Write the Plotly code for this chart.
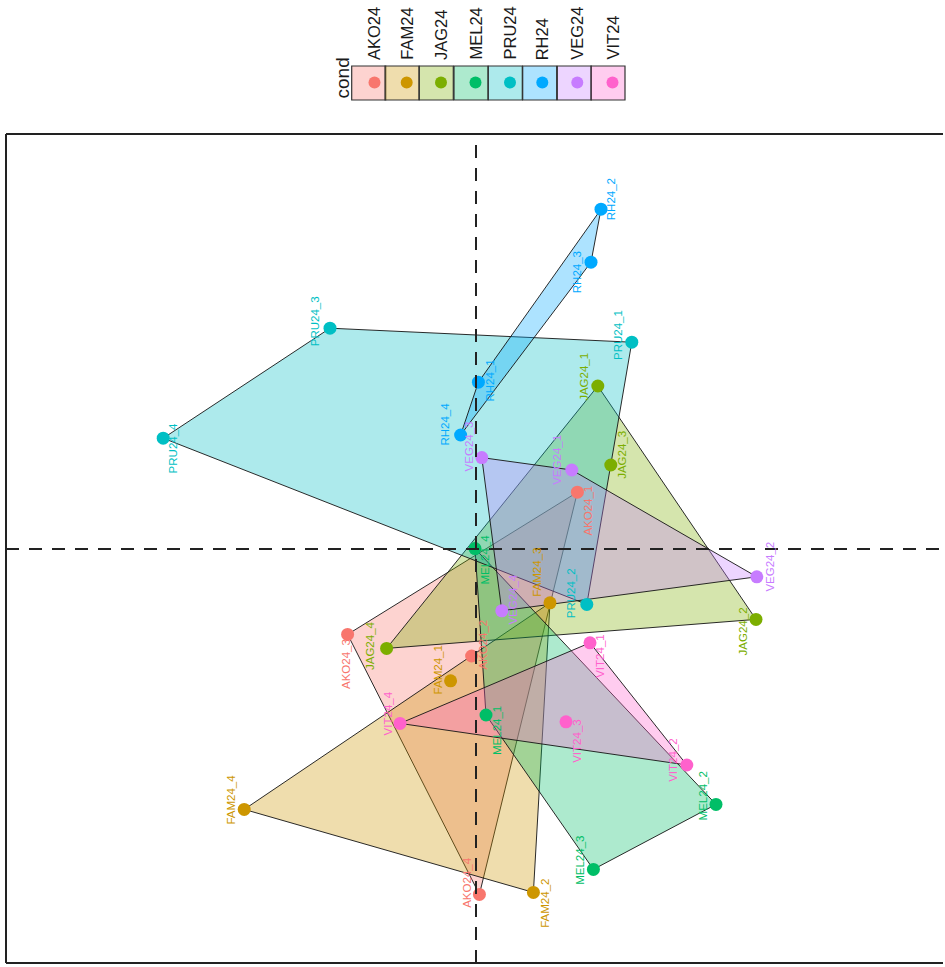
import plotly.graph_objects as go

# ---------------- data ----------------
groups = ["AKO24", "FAM24", "JAG24", "MEL24", "PRU24", "RH24", "VEG24", "VIT24"]
colors = ["#F8766D", "#CD9600", "#7CAE00", "#00BE67", "#00BFC4", "#00A9FF", "#C77CFF", "#FF61CC"]

samples = ["AKO24_1", "AKO24_2", "AKO24_3", "AKO24_4",
           "FAM24_1", "FAM24_2", "FAM24_3", "FAM24_4",
           "JAG24_1", "JAG24_2", "JAG24_3", "JAG24_4",
           "MEL24_1", "MEL24_2", "MEL24_3", "MEL24_4",
           "PRU24_1", "PRU24_2", "PRU24_3", "PRU24_4",
           "RH24_1", "RH24_2", "RH24_3", "RH24_4",
           "VEG24_1", "VEG24_2", "VEG24_3", "VEG24_4",
           "VIT24_1", "VIT24_2", "VIT24_3", "VIT24_4"]
cond = [s.split("_")[0] for s in samples]

pc_x = [5.07, -0.22, -6.42, 0.17,
        -1.27, 2.87, 3.70, -11.59,
        6.09, 14.00, 6.74, -4.47,
        0.50, 12.00, 5.87, -0.05,
        7.79, 5.54, -7.30, -15.64,
        0.12, 6.25, 5.75, -0.77,
        4.79, 14.04, 0.29, 1.29,
        5.70, 10.54, 4.50, -3.80]
pc_y = [2.84, -5.35, -4.27, -17.27,
        -6.59, -17.17, -2.69, -13.02,
        8.15, -3.52, 4.20, -4.97,
        -8.30, -12.77, -16.02, 0.02,
        10.34, -2.77, 11.04, 5.54,
        8.34, 16.99, 14.34, 5.70,
        3.95, -1.39, 4.57, -3.09,
        -4.69, -10.80, -8.64, -8.72]

# label displacement in screen pixels (right, down) – styling only
label_offsets = {
    "AKO24_1": (11, 18), "AKO24_2": (11, -11), "AKO24_3": (-1, 30), "AKO24_4": (-12, -12),
    "FAM24_1": (-13, -11), "FAM24_2": (12, 11), "FAM24_3": (-13, -30), "FAM24_4": (-13, -10),
    "JAG24_1": (-14, -9), "JAG24_2": (-13, 12), "JAG24_3": (11, -10), "JAG24_4": (-16, -3),
    "MEL24_1": (11, 16), "MEL24_2": (-13, -8), "MEL24_3": (-13, -9), "MEL24_4": (10, 11),
    "PRU24_1": (-14, -7), "PRU24_2": (-15, -11), "PRU24_3": (-15, -7), "PRU24_4": (10, 10),
    "RH24_1": (12, -2), "RH24_2": (10, -10), "RH24_3": (-14, 10), "RH24_4": (-16, -11),
    "VEG24_1": (-15, -10), "VEG24_2": (13, -10), "VEG24_3": (-13, -11), "VEG24_4": (11, -11),
    "VIT24_1": (10, 14), "VIT24_2": (-14, -5), "VIT24_3": (11, 20), "VIT24_4": (-12, -10),
}

FONT = "Liberation Sans, Arial, sans-serif"


def rgba(hexc, a):
    h = hexc.lstrip("#")
    r, g, b = int(h[0:2], 16), int(h[2:4], 16), int(h[4:6], 16)
    return f"rgba({r},{g},{b},{a})"


def convex_hull(pts):
    pts = sorted(set(pts))
    if len(pts) <= 2:
        return pts

    def cross(o, a, b):
        return (a[0] - o[0]) * (b[1] - o[1]) - (a[1] - o[1]) * (b[0] - o[0])

    lower = []
    for p in pts:
        while len(lower) >= 2 and cross(lower[-2], lower[-1], p) <= 0:
            lower.pop()
        lower.append(p)
    upper = []
    for p in reversed(pts):
        while len(upper) >= 2 and cross(upper[-2], upper[-1], p) <= 0:
            upper.pop()
        upper.append(p)
    return lower[:-1] + upper[:-1]


fig = go.Figure()

# hull polygons
for g, c in zip(groups, colors):
    pts = [(x, y) for x, y, k in zip(pc_x, pc_y, cond) if k == g]
    hull = convex_hull(pts)
    hx = [p[0] for p in hull] + [hull[0][0]]
    hy = [p[1] for p in hull] + [hull[0][1]]
    fig.add_trace(go.Scatter(x=hx, y=hy, mode="lines", fill="toself",
                             fillcolor=rgba(c, 0.32),
                             line=dict(color="rgba(20,20,20,0.9)", width=1),
                             hoverinfo="skip", showlegend=False))

# points
for g, c in zip(groups, colors):
    xs = [x for x, k in zip(pc_x, cond) if k == g]
    ys = [y for y, k in zip(pc_y, cond) if k == g]
    fig.add_trace(go.Scatter(x=xs, y=ys, mode="markers",
                             marker=dict(color=c, size=13, line=dict(width=0)),
                             name=g, showlegend=False))

# sample labels (rotated)
col_of = dict(zip(groups, colors))
for s, x, y, k in zip(samples, pc_x, pc_y, cond):
    dx, dy = label_offsets[s]
    fig.add_annotation(x=x, y=y, xref="x", yref="y", text=s, showarrow=False,
                       textangle=-90, xshift=dx, yshift=-dy,
                       font=dict(family=FONT, size=11.5, color=col_of[k]))

# dashed zero lines
fig.add_shape(type="line", xref="x", yref="paper", x0=0, x1=0, y0=0, y1=1,
              line=dict(color="#222222", width=2, dash="13px,10px"))
fig.add_shape(type="line", xref="paper", yref="y", x0=0, x1=1, y0=0, y1=0,
              line=dict(color="#222222", width=2, dash="13px,10px"))

# ---------------- layout geometry (pixels) ----------------
W, H = 960, 967          # figure wider than window: right side is cut off, as in the reference
L, R, T, B = 6, 960, 134, 963
FRAME_RIGHT = 943


def PX(px):
    return (px - L) / (R - L)


def PY(py):
    return (B - py) / (B - T)


# frame (left, top, bottom) – right side cut like the reference
frame = dict(color="#222222", width=2)
fig.add_shape(type="line", xref="paper", yref="paper", x0=0, x1=0, y0=0, y1=1, line=frame)
fig.add_shape(type="line", xref="paper", yref="paper", x0=0, x1=PX(FRAME_RIGHT), y0=1, y1=1, line=frame)
fig.add_shape(type="line", xref="paper", yref="paper", x0=0, x1=PX(FRAME_RIGHT), y0=0, y1=0, line=frame)

# ---------------- custom rotated legend ----------------
box_left = [351.7, 385.0, 419.3, 454.0, 488.3, 522.7, 557.3, 591.0]
box_w = 34.0
dot_x = [374.5, 406.7, 441.0, 475.5, 510.0, 542.3, 577.3, 612.5]
for i, (g, c) in enumerate(zip(groups, colors)):
    x0 = box_left[i]
    fig.add_shape(type="rect", xref="paper", yref="paper",
                  x0=PX(x0), x1=PX(x0 + box_w), y0=PY(100), y1=PY(66),
                  fillcolor=rgba(c, 0.32), line=dict(color="#333333", width=1.2))
    r = 6
    fig.add_shape(type="circle", xref="paper", yref="paper",
                  x0=PX(dot_x[i] - r), x1=PX(dot_x[i] + r),
                  y0=PY(82.5 + r), y1=PY(82.5 - r),
                  fillcolor=c, line=dict(width=0))
    fig.add_annotation(x=PX(dot_x[i]), y=PY(62), xref="paper", yref="paper",
                       text=g, showarrow=False, textangle=-90,
                       xanchor="center", yanchor="bottom",
                       font=dict(family=FONT, size=16.5, color="#1a1a1a"))

fig.add_annotation(x=PX(342), y=PY(101), xref="paper", yref="paper",
                   text="cond", showarrow=False, textangle=-90,
                   xanchor="center", yanchor="bottom",
                   font=dict(family=FONT, size=19, color="#1a1a1a"))

# 20 px per data unit, origin at pixel (476, 549)
x_min = (L - 476) / 20
x_max = (R - 476) / 20
y_max = (549 - T) / 20
y_min = (549 - B) / 20
fig.update_xaxes(range=[x_min, x_max], showgrid=False, zeroline=False,
                 showticklabels=False, ticks="", showline=False)
fig.update_yaxes(range=[y_min, y_max], showgrid=False, zeroline=False,
                 showticklabels=False, ticks="", showline=False)

fig.update_layout(width=W, height=H,
                  margin=dict(l=L, r=W - R, t=T, b=H - B),
                  plot_bgcolor="white", paper_bgcolor="white",
                  showlegend=False)

fig.write_html("out.html", config={"displayModeBar": False},
               post_script="document.body.style.margin='0px';document.body.style.overflow='hidden';")
